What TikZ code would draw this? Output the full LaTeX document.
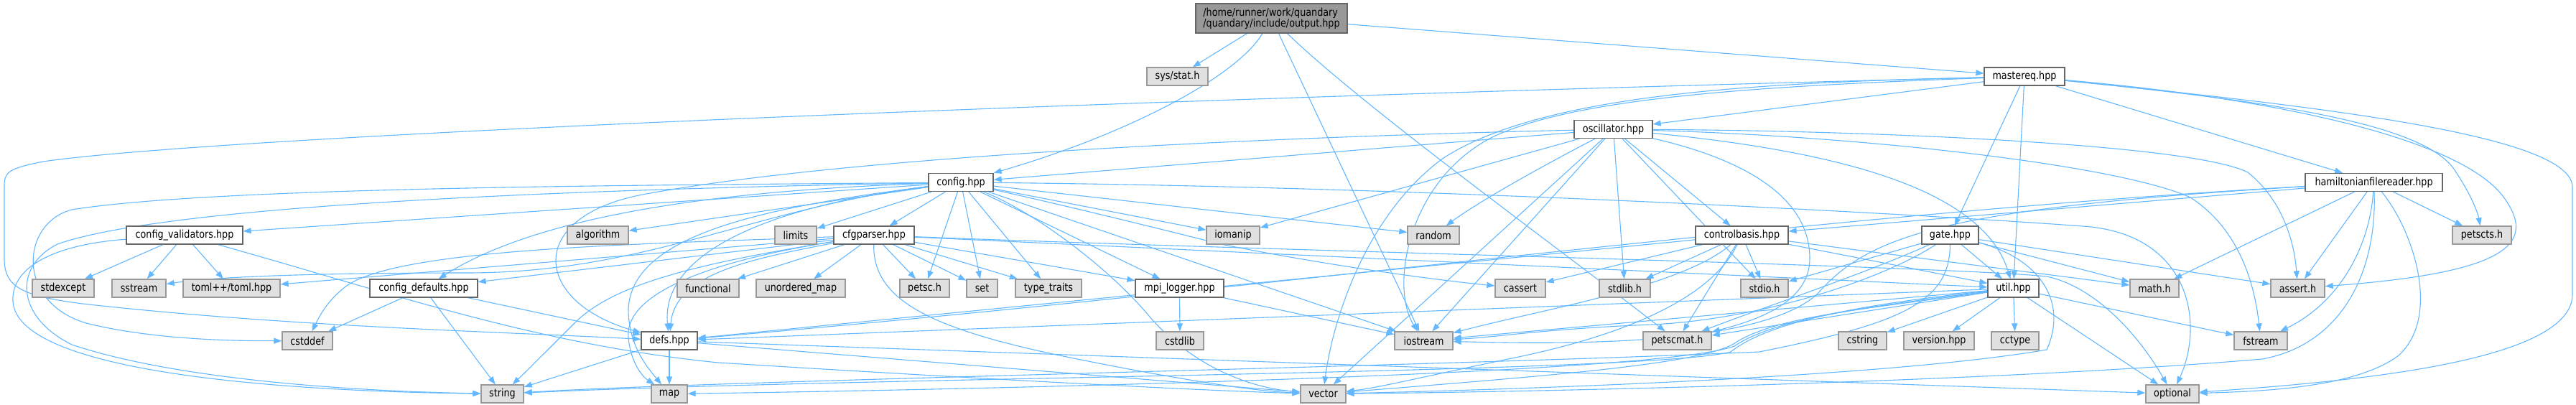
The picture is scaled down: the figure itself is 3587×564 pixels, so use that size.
\documentclass[tikz,border=0pt]{standalone}
\usepackage{fontspec}
\setmainfont{DejaVu Sans}[FakeStretch=0.85]
\usetikzlibrary{arrows.meta}
\definecolor{edgec}{HTML}{63B8FF}
\definecolor{sysfill}{HTML}{E0E0E0}
\definecolor{sysdraw}{HTML}{999999}
\definecolor{prjdraw}{HTML}{666666}
\definecolor{rootfill}{HTML}{999999}
\pgfdeclarelayer{bgl}
\pgfdeclarelayer{edgel}
\pgfsetlayers{bgl,edgel,main}
\begin{document}
\begin{tikzpicture}[x=1pt,y=-1pt,
  base/.style={rectangle, inner sep=0pt, font=\fontsize{15}{15}\selectfont, line width=1.3pt, text=black, minimum height=25pt},
  sysnode/.style={base, fill=sysfill, draw=sysdraw},
  prj/.style={base, fill=white, draw=prjdraw},
  root/.style={base, fill=rootfill, draw=prjdraw, align=left, minimum height=41pt},
  e/.style={draw=edgec, line width=1.1pt, -{Triangle[length=11pt,width=8pt]}}
]
\begin{pgfonlayer}{bgl}
\path[use as bounding box, fill=white] (0,0) rectangle (3587,564);
\end{pgfonlayer}
% nodes
\node[root, minimum width=211pt] (out) at (1770.5,25.5) {/home/runner/work/quandary\\/quandary/include/output.hpp};
\node[sysnode, minimum width=85pt] (sys) at (1639.5,106.5) {sys/stat.h};
\node[prj, minimum width=112pt] (meq) at (2819,106.5) {mastereq.hpp};
\node[prj, minimum width=109pt] (osc) at (2246.5,180) {oscillator.hpp};
\node[prj, minimum width=90pt] (cfg) at (1338,254) {config.hpp};
\node[prj, minimum width=191pt] (ham) at (3305.5,254) {hamiltonianfilereader.hpp};
\node[prj, minimum width=162pt] (cval) at (257,327.5) {config\_validators.hpp};
\node[sysnode, minimum width=85pt] (alg) at (832.5,327.5) {algorithm};
\node[sysnode, minimum width=58pt] (lim) at (1108,327.5) {limits};
\node[prj, minimum width=112pt] (cfgp) at (1217,327.5) {cfgparser.hpp};
\node[sysnode, minimum width=74pt] (ioma) at (1717,327.5) {iomanip};
\node[sysnode, minimum width=72pt] (rnd) at (1996,327.5) {random};
\node[prj, minimum width=129pt] (cb) at (2425.5,327.5) {controlbasis.hpp};
\node[prj, minimum width=79pt] (gate) at (2715.5,327.5) {gate.hpp};
\node[sysnode, minimum width=82pt] (pts) at (3456,327.5) {petscts.h};
\node[sysnode, minimum width=86pt] (sexc) at (88,401.5) {stdexcept};
\node[sysnode, minimum width=75pt] (sst) at (193.5,401.5) {sstream};
\node[sysnode, minimum width=135pt] (toml) at (322.5,401.5) {toml++/toml.hpp};
\node[prj, minimum width=150pt] (cdef) at (590,401.5) {config\_defaults.hpp};
\node[sysnode, minimum width=86pt] (func) at (986,401.5) {functional};
\node[sysnode, minimum width=124pt] (umap) at (1115,401.5) {unordered\_map};
\node[sysnode, minimum width=69pt] (petsc) at (1287.5,401.5) {petsc.h};
\node[sysnode, minimum width=43pt] (set) at (1367.5,401.5) {set};
\node[sysnode, minimum width=92pt] (tt) at (1460,401.5) {type\_traits};
\node[prj, minimum width=123pt] (mpi) at (1642.5,401.5) {mpi\_logger.hpp};
\node[sysnode, minimum width=70pt] (cass) at (2117,401.5) {cassert};
\node[sysnode, minimum width=71pt] (stdl) at (2262.5,401.5) {stdlib.h};
\node[sysnode, minimum width=66pt] (stdio) at (2457,401.5) {stdio.h};
\node[prj, minimum width=71pt] (util) at (2803.5,401.5) {util.hpp};
\node[sysnode, minimum width=68pt] (math) at (3000,401.5) {math.h};
\node[sysnode, minimum width=75pt] (asrt) at (3199.5,401.5) {assert.h};
\node[sysnode, minimum width=70pt] (cstdd) at (428,474.5) {cstddef};
\node[prj, minimum width=78pt] (defs) at (932,474.5) {defs.hpp};
\node[sysnode, minimum width=66pt] (cstdl) at (1643,474.5) {cstdlib};
\node[sysnode, minimum width=81pt] (iost) at (1982.5,474.5) {iostream};
\node[sysnode, minimum width=95pt] (pmat) at (2335.5,474.5) {petscmat.h};
\node[sysnode, minimum width=67pt] (cstr) at (2593.5,474.5) {cstring};
\node[sysnode, minimum width=98pt] (ver) at (2700,474.5) {version.hpp};
\node[sysnode, minimum width=66pt] (cct) at (2806,474.5) {cctype};
\node[sysnode, minimum width=74pt] (fstr) at (3148,474.5) {fstream};
\node[sysnode, minimum width=59pt] (str) at (699.5,548.5) {string};
\node[sysnode, minimum width=50pt] (map) at (932,548.5) {map};
\node[sysnode, minimum width=63pt] (vec) at (1842.5,548.5) {vector};
\node[sysnode, minimum width=74pt] (opt) at (3025,548.5) {optional};
% edges
\begin{pgfonlayer}{edgel}
% output.hpp
\draw[e] (out) -- (sys);
\draw[e] (out) .. controls (1720,110) and (1560,190) .. (cfg);
\draw[e] (out) -- (iost);
\draw[e] (out) .. controls (1900,150) and (2150,330) .. (pmat);
\draw[e] (out) -- (meq);
% mastereq.hpp
\draw[e] (meq) .. controls (1500,140) and (300,190) .. (60,225) .. controls (10,235) and (6,240) .. (6,260) -- (6,360) .. controls (6,400) and (30,412) .. (115,423) .. controls (400,455) and (700,462) .. (defs);
\draw[e] (meq) -- (osc);
\draw[e] (meq) .. controls (2450,115) and (2150,130) .. (2010,220) .. controls (1900,300) and (1855,450) .. (vec);
\draw[e] (meq) .. controls (2450,120) and (2200,135) .. (2080,190) .. controls (1960,250) and (1935,400) .. (iost);
\draw[e] (meq) -- (gate);
\draw[e] (meq) -- (util);
\draw[e] (meq) -- (ham);
\draw[e] (meq) .. controls (3150,140) and (3380,170) .. (3420,240) .. controls (3440,270) and (3450,295) .. (pts);
\draw[e] (meq) .. controls (3200,140) and (3440,200) .. (3490,280) .. controls (3530,340) and (3490,380) .. (asrt);
\draw[e] (meq) .. controls (3250,150) and (3580,190) .. (3582,260) -- (3582,410) .. controls (3582,500) and (3300,530) .. (opt);
% oscillator.hpp
\draw[e] (osc) -- (cfg);
\draw[e] (osc) .. controls (1800,190) and (1200,215) .. (900,270) .. controls (730,300) and (740,420) .. (defs);
\draw[e] (osc) -- (ioma);
\draw[e] (osc) .. controls (2150,230) and (2060,280) .. (rnd);
\draw[e] (osc) -- (vec);
\draw[e] (osc) -- (iost);
\draw[e] (osc) -- (stdl);
\draw[e] (osc) -- (stdio);
\draw[e] (osc) -- (cb);
\draw[e] (osc) .. controls (2420,220) and (2520,270) .. (2520,360) .. controls (2520,420) and (2450,445) .. (pmat);
\draw[e] (osc) .. controls (2550,210) and (2760,260) .. (util);
\draw[e] (osc) .. controls (2600,190) and (2950,230) .. (3050,275) .. controls (3120,320) and (3140,400) .. (fstr);
\draw[e] (osc) .. controls (2600,182) and (3050,200) .. (3130,240) .. controls (3180,280) and (3195,340) .. (asrt);
% config.hpp
\draw[e] (cfg) -- (cval);
\draw[e] (cfg) -- (alg);
\draw[e] (cfg) -- (lim);
\draw[e] (cfg) -- (cfgp);
\draw[e] (cfg) .. controls (1000,265) and (750,300) .. (cdef);
\draw[e] (cfg) .. controls (1050,290) and (900,380) .. (650,380) .. controls (450,380) and (300,385) .. (sst);
\draw[e] (cfg) .. controls (900,258) and (300,260) .. (100,292) .. controls (30,310) and (20,420) .. (120,450) .. controls (200,470) and (300,475) .. (cstdd);
\draw[e] (cfg) .. controls (900,262) and (250,280) .. (80,340) .. controls (20,370) and (20,440) .. (100,480) .. controls (250,530) and (500,545) .. (str);
\draw[e] (cfg) .. controls (1050,290) and (880,330) .. (875,430) .. controls (875,480) and (900,510) .. (map);
\draw[e] (cfg) .. controls (1050,290) and (920,360) .. (defs);
\draw[e] (cfg) -- (petsc);
\draw[e] (cfg) -- (set);
\draw[e] (cfg) -- (tt);
\draw[e] (cfg) -- (mpi);
\draw[e] (cfg) -- (ioma);
\draw[e] (cfg) -- (rnd);
\draw[e] (cfg) .. controls (1500,290) and (1620,320) .. (1700,340) .. controls (1850,370) and (2000,390) .. (cass);
\draw[e] (cfg) -- (iost);
\draw[e] (cfg) .. controls (1450,300) and (1550,380) .. (1600,440) .. controls (1660,510) and (1740,540) .. (vec);
\draw[e] (cfg) .. controls (2000,260) and (2700,300) .. (2900,315) .. controls (3050,325) and (3070,450) .. (opt);
% cfgparser.hpp
\draw[e] (cfgp) -- (func);
\draw[e] (cfgp) -- (umap);
\draw[e] (cfgp) -- (petsc);
\draw[e] (cfgp) -- (set);
\draw[e] (cfgp) -- (tt);
\draw[e] (cfgp) -- (mpi);
\draw[e] (cfgp) .. controls (1050,360) and (940,380) .. (defs);
\draw[e] (cfgp) .. controls (950,370) and (870,420) .. (875,470) .. controls (878,505) and (895,525) .. (map);
\draw[e] (cfgp) .. controls (950,370) and (850,400) .. (800,450) .. controls (760,490) and (730,520) .. (str);
\draw[e] (cfgp) .. controls (1215,420) and (1300,460) .. (1500,500) .. controls (1650,530) and (1750,545) .. (vec);
\draw[e] (cfgp) -- (toml);
\draw[e] (cfgp) .. controls (900,340) and (550,345) .. (480,400) .. controls (455,420) and (445,440) .. (cstdd);
\draw[e] (cfgp) -- (cdef);
\draw[e] (cfgp) -- (util);
\draw[e] (cfgp) .. controls (1800,350) and (2700,370) .. (2850,385) .. controls (2920,400) and (2980,470) .. (opt);
% config_validators.hpp
\draw[e] (cval) -- (sexc);
\draw[e] (cval) -- (sst);
\draw[e] (cval) -- (toml);
\draw[e] (cval) .. controls (80,340) and (15,370) .. (18,420) .. controls (25,520) and (400,545) .. (str);
\draw[e] (cval) .. controls (550,410) and (750,480) .. (1000,505) .. controls (1400,530) and (1700,545) .. (vec);
% config_defaults.hpp
\draw[e] (cdef) -- (cstdd);
\draw[e] (cdef) -- (str);
\draw[e] (cdef) -- (defs);
% defs.hpp
\draw[e] (defs) -- (str);
\draw[e] (defs) -- (map);
\draw[e] (defs) -- (vec);
\draw[e] (defs) -- (opt);
% mpi_logger.hpp
\draw[e] (mpi) -- (cstdl);
\draw[e] (mpi) -- (iost);
% hamiltonianfilereader.hpp
\draw[e] (ham) -- (cb);
\draw[e] (ham) .. controls (2500,300) and (1800,400) .. (defs);
\draw[e] (ham) -- (pts);
\draw[e] (ham) -- (math);
\draw[e] (ham) -- (asrt);
\draw[e] (ham) .. controls (3300,340) and (3260,420) .. (fstr);
\draw[e] (ham) .. controls (3360,320) and (3400,440) .. (3340,495) .. controls (3280,540) and (3150,545) .. (opt);
\draw[e] (ham) .. controls (3310,380) and (3260,480) .. (3150,500) .. controls (2800,530) and (2200,545) .. (vec);
\draw[e] (ham) .. controls (2700,290) and (2600,330) .. (2530,410) .. controls (2450,480) and (2200,480) .. (iost);
% controlbasis.hpp
\draw[e] (cb) -- (stdl);
\draw[e] (cb) -- (stdio);
\draw[e] (cb) -- (util);
\draw[e] (cb) -- (math);
\draw[e] (cb) -- (cass);
\draw[e] (cb) -- (defs);
\draw[e] (cb) .. controls (2340,400) and (2150,430) .. (iost);
\draw[e] (cb) .. controls (2380,420) and (2250,470) .. (2100,500) .. controls (1980,525) and (1920,540) .. (vec);
\draw[e] (cb) -- (pmat);
% gate.hpp
\draw[e] (gate) -- (util);
\draw[e] (gate) -- (stdio);
\draw[e] (gate) -- (math);
\draw[e] (gate) -- (asrt);
\draw[e] (gate) .. controls (2600,380) and (2450,430) .. (pmat);
\draw[e] (gate) .. controls (2620,390) and (2450,445) .. (2300,452) .. controls (2150,458) and (2080,470) .. (iost);
\draw[e] (gate) .. controls (2840,360) and (2880,420) .. (2850,487) .. controls (2600,530) and (2000,545) .. (vec);
\draw[e] (gate) .. controls (2715,420) and (2650,450) .. (2450,490) .. controls (2000,510) and (1000,530) .. (str);
% util.hpp
\draw[e] (util) -- (pmat);
\draw[e] (util) -- (iost);
\draw[e] (util) .. controls (2600,430) and (2480,440) .. (2420,475) .. controls (2380,505) and (2200,520) .. (vec);
\draw[e] (util) .. controls (2580,425) and (2460,450) .. (2410,490) .. controls (2300,520) and (1200,525) .. (str);
\draw[e] (util) .. controls (2590,428) and (2470,445) .. (2415,482) .. controls (2300,525) and (1200,545) .. (map);
\draw[e] (util) -- (defs);
\draw[e] (util) -- (cstr);
\draw[e] (util) -- (ver);
\draw[e] (util) -- (cct);
\draw[e] (util) -- (fstr);
\draw[e] (util) -- (opt);
\end{pgfonlayer}
\end{tikzpicture}
\end{document}
